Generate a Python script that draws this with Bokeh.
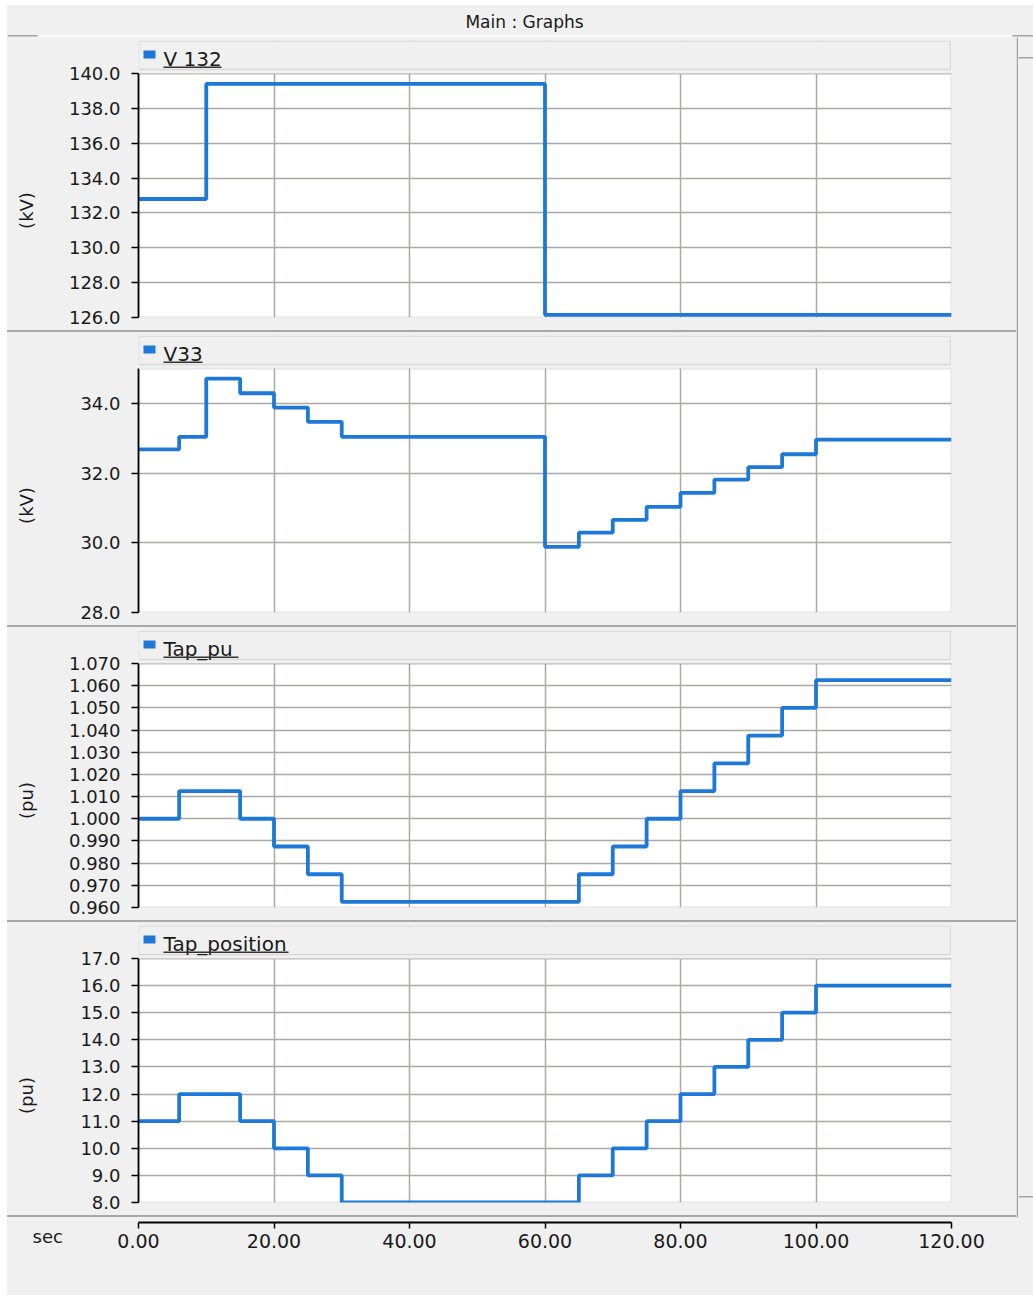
import math
from bokeh.plotting import figure
from bokeh.layouts import column, row
from bokeh.models import (Range1d, FixedTicker, PrintfTickFormatter, Label,
                          BoxAnnotation, Spacer, Div, Plot)
from bokeh.embed import file_html
from bokeh.resources import INLINE

# ---------------- data ----------------
time_v132 = [0, 10, 60, 120]
v132_kv = [132.8, 139.4, 126.15, 126.15]

time_v33 = [0, 6, 10, 15, 20, 25, 30, 60, 65, 70, 75, 80, 85, 90, 95, 100, 120]
v33_kv = [32.68, 33.04, 34.71, 34.29, 33.88, 33.47, 33.04, 29.88, 30.29, 30.66,
          31.03, 31.43, 31.81, 32.17, 32.54, 32.96, 32.96]

time_tap = [0, 6, 15, 20, 25, 30, 65, 70, 75, 80, 85, 90, 95, 100, 120]
tap_pu = [1.0, 1.0125, 1.0, 0.9875, 0.975, 0.9625, 0.975, 0.9875, 1.0, 1.0125,
          1.025, 1.0375, 1.05, 1.0625, 1.0625]
tap_position = [11, 12, 11, 10, 9, 8, 9, 10, 11, 12, 13, 14, 15, 16, 16]

x_ticks = [0, 20, 40, 60, 80, 100, 120]
v132_ticks = [126, 128, 130, 132, 134, 136, 138, 140]
v33_ticks = [28, 30, 32, 34]
tap_pu_ticks = [0.96, 0.97, 0.98, 0.99, 1.00, 1.01, 1.02, 1.03, 1.04, 1.05, 1.06, 1.07]
tap_pos_ticks = [8, 9, 10, 11, 12, 13, 14, 15, 16, 17]

panels = [
    dict(name="V 132", unit="(kV)", t=time_v132, y=v132_kv, lo=126.0, hi=140.0,
         ticks=v132_ticks, fmt="%.1f", ul=58),
    dict(name="V33", unit="(kV)", t=time_v33, y=v33_kv, lo=28.0, hi=35.0,
         ticks=v33_ticks, fmt="%.1f", ul=39),
    dict(name="Tap_pu", unit="(pu)", t=time_tap, y=tap_pu, lo=0.96, hi=1.07,
         ticks=tap_pu_ticks, fmt="%.3f", ul=75),
    dict(name="Tap_position", unit="(pu)", t=time_tap, y=tap_position, lo=8.0, hi=17.0,
         ticks=tap_pos_ticks, fmt="%.1f", ul=125),
]

# ---------------- layout / style ----------------
PAGE_W, PAGE_H = 1033, 1295
M_LEFT, M_TOP = 7, 5            # white strip of the screenshot
MAIN_W = PAGE_W - M_LEFT        # 1026
TITLE_H = 32
SCROLL_W = 17
COL_W = MAIN_W - SCROLL_W       # 1009
PANEL_H = 293
SEP_H = 2
AXIS_H = 78
UNIT_W = 50
PW = COL_W - UNIT_W             # panel figure width
PB_LEFT = 131 - UNIT_W
PB_RIGHT = 65
FRAME_W = PW - PB_LEFT - PB_RIGHT   # 813
F_TOP = 3
HEAD_PX = 33
PLOT_PX = 244
F_BOTTOM = PANEL_H - F_TOP - HEAD_PX - PLOT_PX
X0, X1 = 0.0, 120.0

BG = "#f0f0f0"
BLUE = "#1e78d7"
GRID = "#aca8a4"
EDGE = "#a4a4a4"
TXT = "#1a1a1a"
FONT = "DejaVu Sans"

NOALIGN = {"frame_align": False} if "frame_align" in Plot.properties() else {}

x_range = Range1d(X0, X1)
xpp = (X1 - X0) / FRAME_W


def dx(px):
    return X0 + px * xpp


def bare(w, h):
    f = figure(width=w, height=h, x_range=Range1d(0, w), y_range=Range1d(h, 0),
               min_border=0, x_axis_location=None, y_axis_location=None,
               toolbar_location=None, output_backend="svg",
               background_fill_color=BG, border_fill_color=BG, outline_line_color=None,
               **NOALIGN)
    f.grid.visible = False
    return f


def box(left=None, right=None, bottom=None, top=None, color=EDGE, **kw):
    return BoxAnnotation(left=left, right=right, bottom=bottom, top=top,
                         fill_color=color, fill_alpha=1, line_color=None, **kw)


def sep_line(w):
    return Div(text="", width=w, height=SEP_H,
               styles={"background-color": "#a8a8a8", "margin": "0", "padding": "0"})


# ---------------- title bar ----------------
pt = bare(MAIN_W, TITLE_H)
pt.add_layout(Label(x=524 - M_LEFT, y=21 - M_TOP, text="Main : Graphs", text_align="center",
                    text_baseline="middle", text_font=FONT, text_font_size="17px",
                    text_color=TXT))
pt.add_layout(box(left=33, right=1003, top=29.5, bottom=31, color="white"))
pt.add_layout(box(left=0, right=30, top=29.5, bottom=31, color=EDGE))
pt.add_layout(box(left=1005, right=MAIN_W, top=29.5, bottom=31, color=EDGE))

left_items = []

for spec in panels:
    lo, hi = spec["lo"], spec["hi"]
    ppx = (hi - lo) / PLOT_PX

    p = figure(width=PW, height=PANEL_H, x_range=x_range,
               y_range=Range1d(lo, hi + HEAD_PX * ppx),
               min_border_left=PB_LEFT, min_border_right=PB_RIGHT,
               min_border_top=F_TOP, min_border_bottom=F_BOTTOM,
               x_axis_location=None, y_axis_location="left",
               toolbar_location=None, output_backend="svg",
               background_fill_color="white", border_fill_color=BG,
               outline_line_color=None, **NOALIGN)

    p.xgrid.ticker = FixedTicker(ticks=x_ticks)
    p.ygrid.ticker = FixedTicker(ticks=spec["ticks"])
    p.grid.grid_line_color = GRID
    p.grid.grid_line_width = 1.5

    ax = p.yaxis[0]
    ax.bounds = (lo, hi)
    ax.ticker = FixedTicker(ticks=spec["ticks"])
    ax.formatter = PrintfTickFormatter(format=spec["fmt"])
    ax.axis_line_color = "black"
    ax.axis_line_width = 1.8
    ax.major_tick_line_color = "black"
    ax.major_tick_line_width = 1.5
    ax.major_tick_out = 7
    ax.major_tick_in = 0
    ax.minor_tick_line_color = None
    ax.major_label_standoff = 11
    ax.major_label_text_font = FONT
    ax.major_label_text_font_size = "18px"
    ax.major_label_text_color = TXT

    # plot-area border
    p.add_layout(BoxAnnotation(left=X0, right=X1, bottom=lo, top=hi, fill_color=None,
                               line_color="#a09c98", line_width=2, level="underlay"))

    # data
    p.step(x=spec["t"], y=spec["y"], mode="after", line_color=BLUE, line_width=3.8)

    # header strip (above the plot area, inside the frame)
    p.add_layout(box(bottom=hi, color=BG))
    p.add_layout(BoxAnnotation(left=X0, right=dx(FRAME_W - 1),
                               bottom=hi + 4 * ppx, top=hi + (HEAD_PX - 0.5) * ppx,
                               fill_color=BG, fill_alpha=1, line_color=EDGE, line_width=1.5))
    p.add_layout(box(left=dx(5), right=dx(17), bottom=hi + 15 * ppx, top=hi + 23 * ppx,
                     color=BLUE))
    p.add_layout(Label(x=dx(25), y=hi + 15 * ppx, text=spec["name"], text_align="left",
                       text_baseline="middle", text_font=FONT, text_font_size="20px",
                       text_color=TXT))
    p.add_layout(box(left=dx(25), right=dx(25 + spec["ul"]), bottom=hi + 5.5 * ppx,
                     top=hi + 7 * ppx, color="#333333"))

    # unit label column
    u = bare(UNIT_W, PANEL_H)
    u.add_layout(Label(x=26 - M_LEFT, y=F_TOP + HEAD_PX + PLOT_PX / 2 + 15, text=spec["unit"],
                       angle=math.pi / 2, text_align="center", text_baseline="middle",
                       text_font=FONT, text_font_size="18px", text_color=TXT))

    left_items.append(row(u, p, spacing=0))
    left_items.append(sep_line(COL_W))

# ---------------- shared time axis ----------------
AX_LEFT = 30
SEC_W = 131 - AX_LEFT
pa = figure(width=COL_W - SEC_W, height=AXIS_H, x_range=x_range, y_range=Range1d(0, 1),
            min_border_left=AX_LEFT, min_border_right=PB_RIGHT,
            min_border_top=0, min_border_bottom=AXIS_H - 5,
            x_axis_location="below", y_axis_location=None,
            toolbar_location=None, output_backend="svg",
            background_fill_color=BG, border_fill_color=BG, outline_line_color=None,
            **NOALIGN)
pa.grid.visible = False
xa = pa.xaxis[0]
xa.bounds = (X0, X1)
xa.ticker = FixedTicker(ticks=x_ticks)
xa.formatter = PrintfTickFormatter(format="%.2f")
xa.axis_line_color = "black"
xa.axis_line_width = 1.8
xa.major_tick_line_color = "black"
xa.major_tick_line_width = 1.5
xa.major_tick_out = 6
xa.major_tick_in = 0
xa.minor_tick_line_color = None
xa.major_label_standoff = 5
xa.major_label_text_font = FONT
xa.major_label_text_font_size = "19px"
xa.major_label_text_color = TXT

ps = bare(SEC_W, AXIS_H)
ps.add_layout(Label(x=32 - M_LEFT, y=1236 - 1217, text="sec", text_align="left",
                    text_baseline="middle", text_font=FONT, text_font_size="18px",
                    text_color=TXT))
left_items.append(row(ps, pa, spacing=0))

left_col = column(*left_items, spacing=0)

# ---------------- scrollbar strip ----------------
SC_H = PAGE_H - M_TOP - TITLE_H
sc = bare(SCROLL_W, SC_H)
sc.add_layout(box(left=0, right=1.5, top=0, bottom=1217 - 37, color=EDGE))
sc.add_layout(box(left=2, right=SCROLL_W, top=19.5, bottom=21, color=EDGE))
sc.add_layout(box(left=2, right=SCROLL_W, top=1158.5, bottom=1160, color=EDGE))

main = column(pt, row(left_col, sc, spacing=0), spacing=0,
              styles={"background-color": BG})
layout = column(Spacer(width=PAGE_W, height=M_TOP),
                row(Spacer(width=M_LEFT, height=PAGE_H - M_TOP), main, spacing=0),
                spacing=0)

open("out.html", "w").write(file_html(layout, INLINE))
